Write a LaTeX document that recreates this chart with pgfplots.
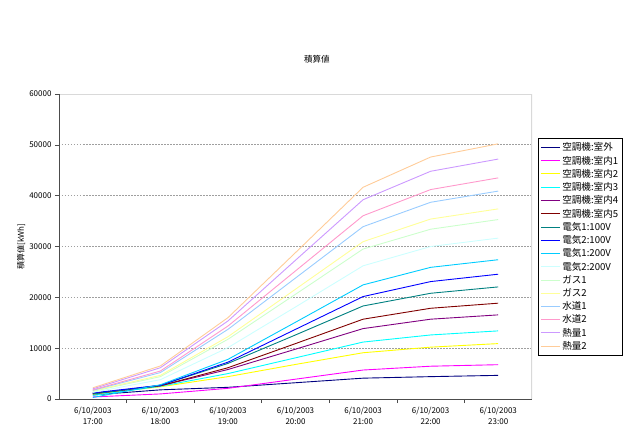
\documentclass[border=0pt]{standalone}
\usepackage{fontspec}
\setmainfont{Noto Sans CJK JP}
\usepackage{pgfplots}
\pgfplotsset{compat=1.18}
\definecolor{c1}{HTML}{000080}
\definecolor{c2}{HTML}{FF00FF}
\definecolor{c3}{HTML}{FFFF00}
\definecolor{c4}{HTML}{00FFFF}
\definecolor{c5}{HTML}{800080}
\definecolor{c6}{HTML}{800000}
\definecolor{c7}{HTML}{008080}
\definecolor{c8}{HTML}{0000FF}
\definecolor{c9}{HTML}{00CCFF}
\definecolor{c10}{HTML}{CCFFFF}
\definecolor{c11}{HTML}{CCFFCC}
\definecolor{c12}{HTML}{FFFF99}
\definecolor{c13}{HTML}{99CCFF}
\definecolor{c14}{HTML}{FF99CC}
\definecolor{c15}{HTML}{CC99FF}
\definecolor{c16}{HTML}{FFCC99}
\begin{document}
\begin{tikzpicture}[x=1pt,y=1pt]
\path[use as bounding box] (0,0) rectangle (634,432);
\begin{axis}[
  at={(59pt,33pt)}, anchor=south west,
  scale only axis, width=473pt, height=305pt,
  xmin=-0.5, xmax=6.5, ymin=0, ymax=60000,
  ytick={0,10000,...,60000},
  scaled y ticks=false,
  /pgf/number format/fixed,
  /pgf/number format/1000 sep={},
  /pgf/number format/assume math mode=true,
  xtick={0,...,6},
  xticklabels={{6/10/2003\\17:00},{6/10/2003\\18:00},{6/10/2003\\19:00},{6/10/2003\\20:00},{6/10/2003\\21:00},{6/10/2003\\22:00},{6/10/2003\\23:00}},
  x tick label style={align=center, font=\fontsize{8}{11}\selectfont, yshift=-1pt},
  y tick label style={font=\fontsize{8}{9}\selectfont},
  major x tick style={draw=none},
  minor xtick={0.5,1.5,...,5.5},
  minor tick length=4pt, major tick length=4pt,
  tick align=outside,
  tick style={gray!60!black, line width=0.6pt},
  xtick pos=bottom, ytick pos=left,
  ymajorgrids,
  grid style={dash pattern=on 1.5pt off 1.5pt, gray!75, line width=1pt},
  axis line style={draw=none},
  title={積算値},
  title style={at={(axis description cs:0.545,1.095)}, anchor=center, font=\fontsize{8.5}{10}\selectfont},
  ylabel={積算値[kWh]},
  ylabel style={at={(axis description cs:-0.08,0.5)}, anchor=center, font=\fontsize{8}{9}\selectfont},
  legend style={at={(axis description cs:1.0127,0.856)}, anchor=north west, draw=black, line width=0.5pt,
    font=\fontsize{9.6}{10}\selectfont, row sep=-0.3pt, inner xsep=2pt, inner ysep=2.5pt},
  legend cell align=left,
  legend image code/.code={\draw[#1, line width=1pt] (0pt,0pt) -- (19pt,0pt);},
  every axis plot/.append style={line width=0.9pt, mark=none},
]
\addplot[color=c1] coordinates {(0,800)(1,1800)(2,2300)(3,3200)(4,4100)(5,4400)(6,4650)};
\addplot[color=c2] coordinates {(0,400)(1,1000)(2,2100)(3,3900)(4,5700)(5,6450)(6,6750)};
\addplot[color=c3] coordinates {(0,900)(1,2400)(2,4400)(3,6800)(4,9100)(5,10200)(6,10900)};
\addplot[color=c4] coordinates {(0,700)(1,2500)(2,5000)(3,8100)(4,11200)(5,12600)(6,13400)};
\addplot[color=c5] coordinates {(0,1000)(1,2600)(2,5800)(3,9800)(4,13850)(5,15700)(6,16550)};
\addplot[color=c6] coordinates {(0,1100)(1,2600)(2,6150)(3,10900)(4,15700)(5,17850)(6,18850)};
\addplot[color=c7] coordinates {(0,1000)(1,2700)(2,7000)(3,12600)(4,18300)(5,20800)(6,22050)};
\addplot[color=c8] coordinates {(0,1200)(1,2700)(2,7250)(3,13700)(4,20150)(5,23100)(6,24550)};
\addplot[color=c9] coordinates {(0,300)(1,2800)(2,7800)(3,15100)(4,22450)(5,25900)(6,27400)};
\addplot[color=c10] coordinates {(0,1300)(1,3800)(2,10100)(3,18100)(4,26200)(5,30000)(6,31650)};
\addplot[color=c11] coordinates {(0,1500)(1,4400)(2,11750)(3,20600)(4,29500)(5,33400)(6,35300)};
\addplot[color=c12] coordinates {(0,1600)(1,4650)(2,12250)(3,21600)(4,30950)(5,35400)(6,37400)};
\addplot[color=c13] coordinates {(0,1700)(1,5200)(2,13700)(3,23800)(4,33900)(5,38700)(6,40900)};
\addplot[color=c14] coordinates {(0,1800)(1,5500)(2,14350)(3,25200)(4,36050)(5,41200)(6,43500)};
\addplot[color=c15] coordinates {(0,2000)(1,6150)(2,15350)(3,27300)(4,39200)(5,44800)(6,47200)};
\addplot[color=c16] coordinates {(0,2200)(1,6500)(2,16000)(3,28800)(4,41650)(5,47600)(6,50200)};
\legend{空調機:室外,空調機:室内1,空調機:室内2,空調機:室内3,空調機:室内4,空調機:室内5,電気1:100V,電気2:100V,電気1:200V,電気2:200V,ガス1,ガス2,水道1,水道2,熱量1,熱量2}
\draw[gray!30, line width=1.6pt] (rel axis cs:0,1) -- (rel axis cs:1,1) -- (rel axis cs:1,0);
\draw[gray!60!black, line width=0.8pt] (rel axis cs:0,1) -- (rel axis cs:0,0) -- (rel axis cs:1,0);
\end{axis}
\end{tikzpicture}
\end{document}
